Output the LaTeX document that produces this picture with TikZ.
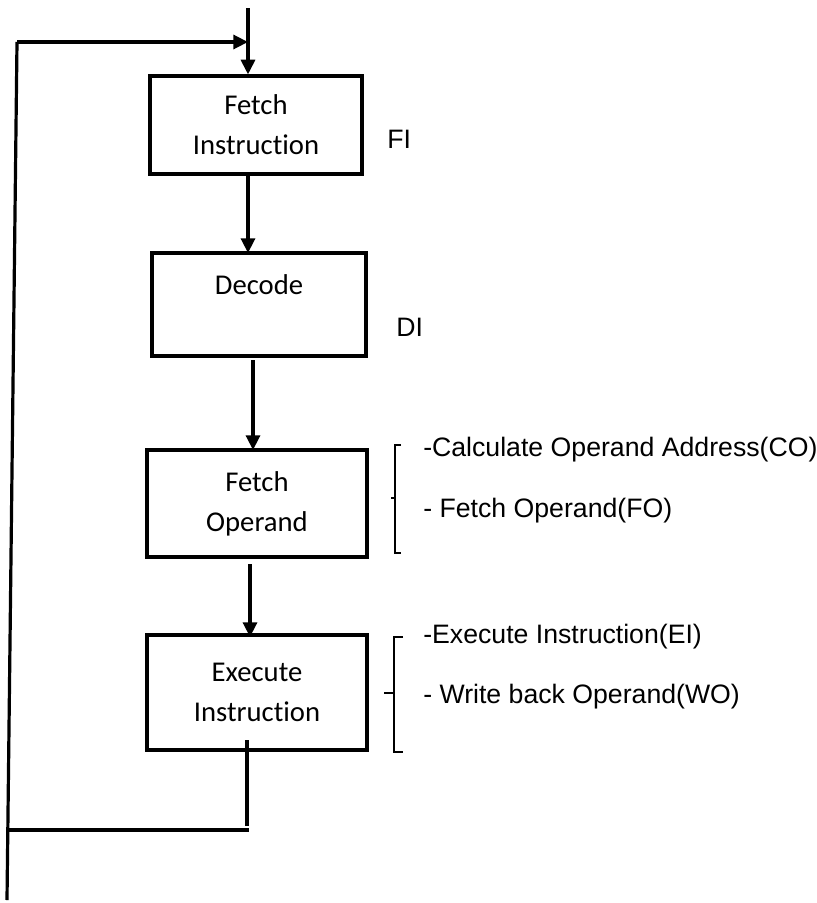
\documentclass[tikz,border=0pt]{standalone}
\usepackage{fontspec}
\setmainfont{Liberation Sans}
\newfontfamily\boxfont[Ligatures=NoCommon]{Carlito}
\usetikzlibrary{arrows.meta}

\tikzset{
  stage/.style={draw, line width=2.4pt, inner sep=0pt, align=center,
    font=\boxfont\fontsize{21.5}{30}\selectfont},
  flow/.style={line width=2.4pt, -{Triangle[length=11pt,width=10.5pt]}},
  wire/.style={line width=2.4pt},
  brace/.style={line width=2.2pt},
  note/.style={inner sep=0pt, anchor=west, font=\fontsize{20}{24}\selectfont}
}

\begin{document}
\begin{tikzpicture}[x=0.75pt,y=-0.75pt]
  \useasboundingbox (0,0) rectangle (817,903);

  % pipeline stages
  \node[stage, minimum width=212*0.75pt, minimum height=98*0.75pt] (fi) at (256,125) {Fetch\\Instruction};
  \node[stage, minimum width=214*0.75pt, minimum height=103*0.75pt] (di) at (259,304.5) {Decode\\\mbox{}};
  \node[stage, minimum width=220*0.75pt, minimum height=107*0.75pt] (fo) at (257,503.5) {Fetch\\Operand};
  \node[stage, minimum width=220*0.75pt, minimum height=115*0.75pt] (ex) at (257,692.5)
    {\fontsize{21.5}{32}\selectfont Execute\\Instruction};

  % stage abbreviations
  \node[note] (lfi) at (387,139) {FI};
  \node[note] (ldi) at (396,327) {DI};

  % sub-steps
  \node[note] (co) at (423,450) {-Calculate Operand Address(CO)};
  \node[note] (fop) at (423,511) {- Fetch Operand(FO)};
  \node[note] (ei) at (423,637) {-Execute Instruction(EI)};
  \node[note] (wo) at (423,697) {- Write back Operand(WO)};

  % braces grouping the sub-steps
  \draw[brace] (401,445) -- (395,445) -- (395,553) -- (401,553);
  \draw[brace] (391,498) -- (395,498);
  \draw[brace] (403,637) -- (394,637) -- (394,752) -- (403,752);
  \draw[brace] (384,693) -- (394,693);

  % entry and feedback path
  \coordinate (entry) at (248,8);
  \coordinate (loopTop) at (17,42);
  \coordinate (loopJoin) at (248,42);
  \coordinate (loopEnd) at (7,900);
  \coordinate (exOut) at (247,740);
  \coordinate (exDown) at (247,826);
  \coordinate (backL) at (8,830);
  \coordinate (backR) at (249,830);

  \draw[flow] (entry) -- (entry |- fi.north);
  \draw[flow] (loopTop) -- (loopJoin);
  \draw[wire] (loopTop) -- (loopEnd);
  \draw[wire] (exOut) -- (exDown);
  \draw[wire] (backL) -- (backR);

  % stage-to-stage arrows
  \draw[flow] (248,174) -- (248,253);
  \draw[flow] (253,360) -- (253,450);
  \draw[flow] (250,564) -- (250,637);
\end{tikzpicture}
\end{document}
